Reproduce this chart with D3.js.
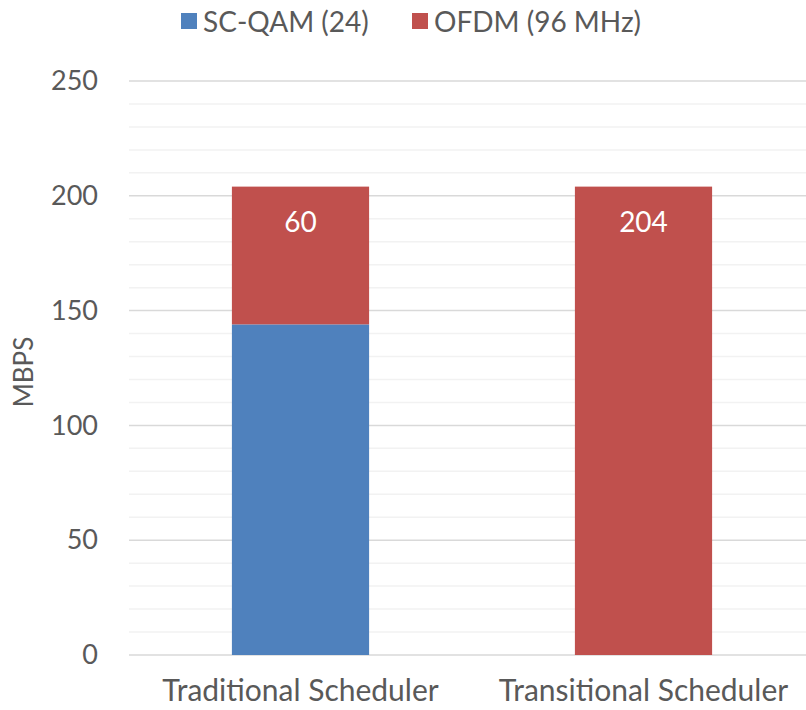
<!DOCTYPE html>
<html>
<head>
<meta charset="utf-8">
<script src="https://cdn.jsdelivr.net/npm/d3@7"></script>
<style>
  body { margin: 0; background: #fff; }
  text { font-family: Lato, "Open Sans", sans-serif; fill: #595959; }
</style>
</head>
<body>
<div id="chart"></div>
<script>
// chart data
var categories = ["Traditional Scheduler", "Transitional Scheduler"];
var seriesNames = ["SC-QAM (24)", "OFDM (96 MHz)"];
var scqam = [144, 0];
var ofdm = [60, 204];
var yTicks = [0, 50, 100, 150, 200, 250];
var colors = ["#4f81bd", "#c0504d"];

var svgWidth = 806, svgHeight = 710;
var margin = {top: 81, bottom: 55, left: 129, right: -9},
  width = svgWidth - margin.left - margin.right,
  height = svgHeight - margin.top - margin.bottom;

var svg = d3.select("#chart")
    .append("svg")
    .attr("width", svgWidth)
    .attr("height", svgHeight);

var g = svg.append("g")
    .attr("transform", "translate(" + margin.left + "," + margin.top + ")");

var x = d3.scaleBand()
    .domain(categories)
    .range([0, width])
    .paddingInner(0.6)
    .paddingOuter(0.3);

var y = d3.scaleLinear()
    .domain([0, 250])
    .range([height, 0]);

// minor gridlines
g.append("g").selectAll("line")
    .data(d3.range(0, 251, 10).filter(function(d) { return d % 50 != 0; }))
    .enter().append("line")
    .attr("x1", 0).attr("x2", width)
    .attr("y1", function(d) { return y(d); })
    .attr("y2", function(d) { return y(d); })
    .attr("stroke", "#f2f2f2")
    .attr("stroke-width", 1.5);

// major gridlines
g.append("g").selectAll("line")
    .data(yTicks)
    .enter().append("line")
    .attr("x1", 0).attr("x2", width)
    .attr("y1", function(d) { return y(d); })
    .attr("y2", function(d) { return y(d); })
    .attr("stroke", "#d9d9d9")
    .attr("stroke-width", 1.5);

// y axis labels
var yAxis = d3.axisLeft(y).tickValues(yTicks).tickSize(0).tickPadding(31);
var yg = g.append("g").call(yAxis);
yg.select(".domain").remove();
yg.selectAll("text").style("font-size", "27px").attr("fill", "#595959");

// stacked bars
var stackData = categories.map(function(c, i) {
  return {cat: c, s0: scqam[i], s1: ofdm[i]};
});
var stack = d3.stack().keys(["s0", "s1"])(stackData);

g.selectAll(".layer")
    .data(stack)
    .enter().append("g")
    .attr("fill", function(d, i) { return colors[i]; })
    .selectAll("rect")
    .data(function(d) { return d; })
    .enter().append("rect")
    .attr("x", function(d) { return x(d.data.cat); })
    .attr("width", x.bandwidth())
    .attr("y", function(d) { return y(d[1]); })
    .attr("height", function(d) { return y(d[0]) - y(d[1]); });

// value labels on the OFDM segment
g.selectAll(".val")
    .data(stack[1])
    .enter().append("text")
    .attr("x", function(d) { return x(d.data.cat) + x.bandwidth() / 2; })
    .attr("y", function(d) { return y(d[1]) + 45; })
    .attr("text-anchor", "middle")
    .style("font-size", "28px")
    .style("fill", "#ffffff")
    .text(function(d) { return d[1] - d[0]; });

// x axis labels
var xAxis = d3.axisBottom(x).tickSize(0).tickPadding(25);
var xg = g.append("g")
    .attr("transform", "translate(0," + height + ")")
    .call(xAxis);
xg.select(".domain").remove();
xg.selectAll("text").style("font-size", "30px").attr("fill", "#595959");

// y axis title
svg.append("text")
    .attr("transform", "translate(33,372) rotate(-90)")
    .attr("text-anchor", "middle")
    .style("font-size", "26px")
    .text("MBPS");

// legend
var legend = svg.append("g");
var legendX = [181, 412];
seriesNames.forEach(function(name, i) {
  legend.append("rect")
      .attr("x", legendX[i]).attr("y", 13)
      .attr("width", 16).attr("height", 16)
      .attr("fill", colors[i]);
  legend.append("text")
      .attr("x", legendX[i] + 22).attr("y", 32)
      .style("font-size", "28px")
      .text(name);
});
</script>
</body>
</html>
